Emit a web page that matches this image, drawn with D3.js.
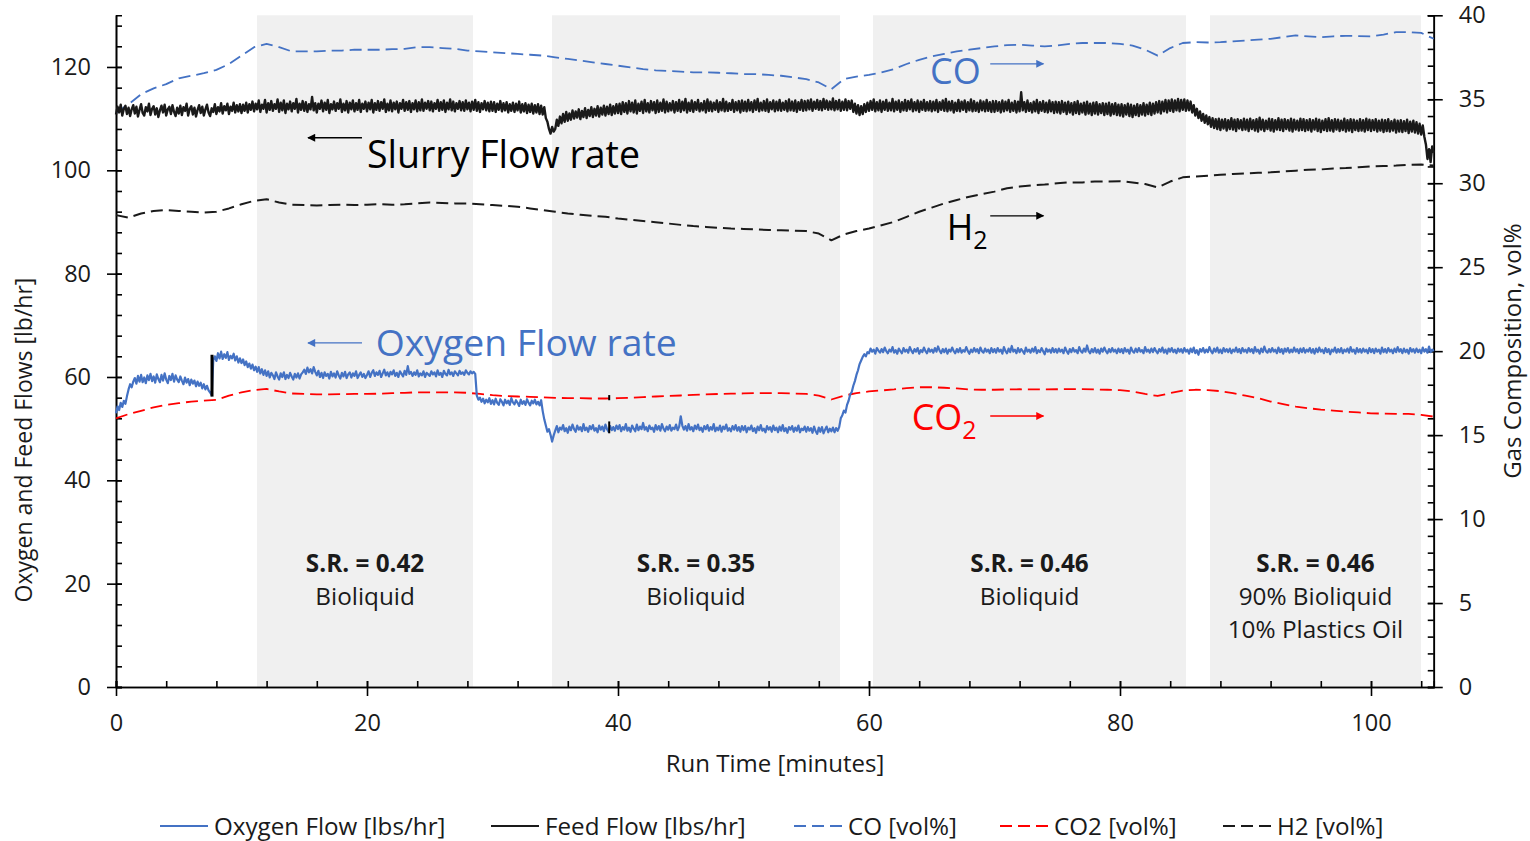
<!DOCTYPE html>
<html>
<head>
<meta charset="utf-8">
<script src="https://cdn.jsdelivr.net/npm/d3@7"></script>
<style>
  html, body { margin: 0; padding: 0; background: #ffffff; }
  svg { display: block; font-family: "Open Sans", Lato, "DejaVu Sans", sans-serif; }
</style>
</head>
<body>
<svg id="chart" width="1530" height="841"></svg>
<script>
// ---------------------------------------------------------------
// Run data
// ---------------------------------------------------------------

// Flow signals are logged every 7.5 s, gas analyser every minute.
const flowStepMin = 0.125;
const gasStepMin = 1;

// Oxygen flow [lbs/hr], t = 0 … 105 min (one row = 5 min)
const oxygenFlow = [
  53.0, 54.3, 53.6, 55.0, 54.2, 55.4, 54.8, 56.3, 57.6, 58.6, 58.0, 59.1, 59.8, 58.7, 60.2, 59.1, 60.4, 59.0, 59.9, 58.8, 60.3, 59.4, 60.6, 59.2, 60.1, 58.9, 60.5, 59.6, 59.0, 60.4, 59.3, 60.7, 59.5, 58.8, 60.2, 59.4, 60.6, 59.1, 60.3, 59.5,
  59.0, 60.1, 59.3, 58.6, 59.9, 58.9, 59.6, 58.4, 59.5, 58.7, 59.3, 58.2, 59.1, 58.3, 58.9, 57.8, 58.6, 57.6, 58.3, 57.4, 57.0, 56.5, 63.2, 64.0, 63.1, 64.6, 63.6, 64.9, 63.5, 64.4, 63.7, 64.8, 63.3, 64.1, 63.6, 64.5, 63.2, 64.0, 62.8, 63.6,
  62.7, 63.4, 62.3, 63.0, 61.9, 62.6, 61.6, 62.4, 61.3, 62.0, 61.0, 61.9, 60.7, 61.5, 60.4, 61.3, 60.2, 61.1, 59.9, 60.8, 60.3, 59.6, 60.9, 60.1, 59.5, 60.7, 60.0, 60.9, 59.6, 60.4, 59.8, 60.8, 60.1, 59.5, 60.6, 59.9, 60.7, 59.7, 60.5, 60.9,
  61.4, 60.6, 61.8, 60.9, 61.5, 60.7, 61.9, 61.0, 60.3, 61.2, 60.0, 60.8, 59.8, 60.9, 60.2, 60.6, 59.7, 61.0, 60.1, 60.7, 59.9, 61.1, 60.3, 59.7, 60.8, 60.1, 61.0, 59.8, 60.5, 60.9, 59.9, 60.7, 60.2, 61.1, 59.8, 60.4, 60.9, 60.0, 60.6, 59.8,
  60.4, 61.1, 60.0, 60.8, 61.3, 60.2, 60.9, 60.4, 61.2, 60.0, 60.7, 61.4, 60.3, 60.9, 60.1, 61.0, 60.5, 61.3, 60.2, 60.8, 60.0, 61.1, 60.6, 60.1, 61.2, 60.4, 62.1, 60.6, 61.0, 60.2, 60.9, 60.4, 61.3, 60.1, 60.7, 60.3, 61.1, 60.0, 60.8, 60.5,
  60.2, 61.1, 60.5, 60.9, 60.1, 61.3, 60.4, 60.8, 60.0, 61.2, 60.6, 60.3, 61.4, 60.5, 60.9, 60.2, 61.1, 60.7, 60.3, 61.2, 60.6, 60.9, 60.4, 61.3, 60.8, 60.5, 61.1, 60.7, 61.0, 60.6, 56.4, 55.6, 56.0, 55.2, 55.8, 54.9, 55.6, 55.1, 55.9, 54.8,
  55.5, 54.7, 55.8, 55.0, 54.6, 55.7, 55.2, 54.5, 55.6, 54.9, 55.4, 54.6, 55.9, 55.1, 54.7, 55.5, 55.0, 54.4, 55.6, 54.8, 55.3, 54.6, 55.7, 55.0, 54.5, 55.4, 54.9, 55.6, 54.7, 55.2, 54.5, 55.5, 53.4, 51.8, 50.6, 49.4, 49.9, 48.8, 47.5, 48.7,
  49.6, 50.5, 49.3, 50.2, 49.8, 50.7, 49.5, 50.1, 49.2, 50.4, 49.7, 50.8, 49.9, 49.4, 50.6, 49.8, 50.3, 49.5, 50.9, 49.7, 50.2, 49.4, 50.5, 49.9, 50.7, 49.6, 50.1, 49.3, 50.6, 49.8, 50.4, 49.5, 50.8, 49.9, 49.4, 50.5, 49.7, 50.3, 49.6, 50.6,
  49.9, 50.7, 49.5, 50.3, 49.8, 50.9, 49.6, 50.2, 49.4, 50.6, 50.0, 49.5, 50.8, 49.7, 50.4, 49.9, 51.1, 49.8, 50.3, 49.5, 50.6, 49.9, 50.2, 49.4, 50.7, 49.8, 50.5, 49.6, 50.9, 50.0, 49.5, 50.4, 49.8, 50.7, 49.6, 50.2, 49.9, 50.8, 49.7, 50.4,
  52.4, 50.6, 49.8, 50.5, 49.6, 50.9, 49.8, 50.3, 49.5, 50.6, 49.9, 50.8, 49.7, 50.2, 49.4, 50.5, 49.9, 50.7, 49.6, 50.3, 49.8, 50.9, 49.5, 50.2, 49.7, 50.6, 49.4, 50.4, 49.9, 50.8, 49.6, 50.1, 49.5, 50.5, 49.8, 50.7, 49.6, 50.3, 49.4, 50.5,
  49.7, 50.5, 49.3, 50.2, 49.8, 50.6, 49.5, 50.1, 49.2, 50.4, 49.7, 50.7, 49.6, 50.0, 49.3, 50.5, 49.8, 50.3, 49.4, 50.6, 49.7, 50.2, 49.3, 50.4, 49.6, 50.7, 49.5, 50.1, 49.2, 50.3, 49.8, 50.5, 49.4, 50.2, 49.6, 50.6, 49.3, 50.0, 49.7, 50.4,
  49.4, 50.3, 49.6, 50.1, 49.2, 50.4, 49.5, 49.0, 50.2, 49.4, 50.3, 49.1, 49.8, 50.4, 49.3, 50.0, 49.5, 50.2, 49.3, 50.1, 49.6, 50.3, 52.0, 52.6, 53.5, 53.1, 54.6, 55.4, 56.6, 57.1, 58.3, 59.2, 60.4, 61.3, 62.5, 63.2, 63.9, 64.4, 64.0, 64.8,
  64.6, 65.5, 64.9, 65.3, 64.5, 65.6, 65.1, 64.7, 65.4, 64.8, 65.7, 65.0, 64.6, 65.3, 64.9, 65.8, 64.7, 65.2, 64.5, 65.5, 65.0, 64.6, 65.6, 64.9, 65.3, 64.7, 65.8, 65.1, 64.6, 65.4, 64.9, 65.6, 64.5, 65.2, 64.8, 65.7, 65.0, 64.6, 65.5, 64.9,
  65.3, 64.7, 65.6, 64.9, 65.9, 65.1, 64.6, 65.4, 64.8, 65.5, 64.5, 65.3, 64.9, 65.7, 65.0, 64.6, 65.4, 64.8, 65.6, 64.7, 65.2, 64.9, 65.8, 65.0, 64.5, 65.3, 64.8, 65.6, 64.9, 65.4, 64.6, 65.7, 65.0, 64.7, 65.5, 64.9, 65.3, 64.6, 65.6, 64.8,
  65.4, 64.7, 65.6, 64.9, 65.3, 64.5, 65.8, 65.0, 64.6, 65.5, 64.8, 66.0, 64.9, 65.3, 64.6, 65.6, 64.8, 65.4, 65.0, 64.5, 65.7, 64.9, 65.3, 64.7, 65.5, 64.9, 65.8, 64.6, 65.2, 64.8, 65.6, 65.0, 64.4, 65.5, 64.9, 65.3, 64.7, 65.6, 64.8, 65.4,
  64.7, 65.5, 64.9, 65.3, 64.6, 65.7, 65.0, 64.5, 65.4, 64.8, 65.6, 64.9, 65.2, 64.6, 65.8, 65.0, 64.7, 65.5, 64.9, 66.1, 65.0, 64.6, 65.4, 64.8, 65.6, 64.7, 65.3, 64.5, 65.5, 64.9, 65.7, 65.0, 64.6, 65.4, 64.8, 65.6, 64.9, 65.3, 64.6, 65.5,
  64.8, 65.4, 64.6, 65.6, 64.9, 65.3, 64.5, 65.7, 65.0, 64.7, 65.5, 64.8, 65.6, 64.9, 65.2, 64.6, 65.8, 64.9, 65.3, 64.7, 65.5, 64.8, 65.6, 65.0, 64.6, 65.4, 64.9, 65.7, 64.7, 65.3, 64.5, 65.5, 64.9, 65.6, 64.8, 65.3, 64.6, 65.5, 64.9, 65.4,
  64.7, 65.6, 64.9, 65.3, 64.5, 65.5, 64.8, 65.7, 64.6, 65.2, 64.3, 65.4, 64.9, 65.6, 64.7, 65.3, 64.8, 65.8, 65.0, 64.6, 65.5, 64.9, 65.7, 64.7, 65.3, 64.6, 65.6, 64.9, 65.4, 64.8, 65.5, 64.6, 65.3, 64.9, 65.7, 64.8, 65.4, 64.6, 65.6, 64.9,
  65.3, 64.7, 65.6, 64.9, 65.4, 64.6, 65.8, 64.9, 65.3, 64.5, 65.5, 64.8, 65.9, 65.0, 64.7, 65.4, 64.8, 65.6, 64.9, 65.3, 64.6, 65.7, 64.8, 65.4, 64.5, 65.5, 64.9, 65.6, 64.7, 65.3, 64.8, 65.7, 64.9, 65.4, 64.6, 65.5, 64.8, 65.6, 64.7, 65.3,
  64.9, 65.6, 64.7, 65.4, 64.5, 65.5, 64.8, 65.7, 64.9, 65.3, 64.6, 65.6, 64.8, 65.4, 64.4, 65.3, 64.9, 65.7, 64.7, 65.4, 64.8, 65.6, 64.6, 65.3, 64.9, 65.5, 64.7, 65.8, 64.9, 65.3, 64.5, 65.6, 64.8, 65.4, 64.7, 65.5, 64.9, 65.3, 64.6, 65.6,
  64.8, 65.4, 64.6, 65.5, 64.9, 65.3, 64.5, 65.7, 64.8, 65.4, 64.7, 65.6, 64.9, 65.3, 64.6, 65.5, 64.8, 65.8, 64.9, 65.4, 64.6, 65.5, 64.8, 65.3, 64.5, 65.6, 64.9, 65.4, 64.7, 65.5, 64.8, 65.3, 64.6, 65.7, 64.9, 65.4, 64.7, 65.9, 64.8, 65.3,
  65.0
];

// Slurry feed flow [lbs/hr], t = 0 … 105 min (one row = 5 min)
const feedFlow = [
  110.8, 112.3, 111.2, 112.7, 110.6, 111.9, 112.5, 110.9, 112.1, 110.5, 111.8, 112.6, 111.0, 112.3, 110.4, 111.7, 112.8, 111.1, 110.6, 112.2, 111.4, 112.9, 110.7, 111.9, 112.4, 110.8, 112.0, 110.3, 111.6, 112.5, 111.2, 112.7, 110.6, 111.8, 112.3, 110.9, 112.6, 111.3, 110.5, 112.1,
  111.0, 112.5, 110.7, 112.2, 111.5, 112.9, 110.6, 111.9, 112.4, 110.8, 112.1, 110.4, 111.7, 112.6, 111.1, 112.3, 110.6, 111.8, 112.7, 111.2, 110.5, 112.0, 111.3, 112.8, 110.9, 112.2, 111.4, 113.0, 111.0, 112.4, 111.6, 112.9, 110.9, 112.3, 111.5, 113.1, 111.2, 112.6, 111.4, 112.8,
  111.1, 112.7, 111.5, 113.1, 111.2, 112.8, 111.7, 113.3, 111.4, 112.9, 111.8, 113.5, 111.3, 112.7, 111.9, 113.6, 111.2, 113.0, 111.7, 113.4, 111.5, 112.8, 111.9, 113.7, 111.3, 113.1, 111.6, 113.5, 111.1, 112.9, 111.8, 113.3, 111.4, 113.0, 111.9, 113.8, 111.2, 112.9, 111.7, 113.4,
  111.5, 113.2, 111.3, 112.8, 111.8, 114.2, 111.6, 113.0, 111.2, 112.9, 111.9, 113.5, 111.4, 113.1, 111.7, 113.6, 111.1, 112.8, 111.8, 113.3, 111.5, 113.0, 111.9, 113.7, 111.3, 112.9, 111.6, 113.4, 111.2, 113.1, 111.8, 113.5, 111.4, 113.0, 111.7, 113.6, 111.3, 112.9, 111.9, 113.3,
  111.4, 113.1, 111.8, 113.6, 111.2, 113.0, 111.7, 113.4, 111.5, 113.2, 111.9, 113.7, 111.3, 112.9, 111.6, 113.5, 111.4, 113.1, 111.8, 113.3, 111.2, 113.0, 111.9, 113.6, 111.5, 113.2, 111.7, 113.4, 111.3, 113.0, 111.8, 113.5, 111.4, 113.2, 111.6, 113.7, 111.5, 113.1, 111.9, 113.4,
  111.6, 113.3, 111.4, 113.0, 111.9, 113.6, 111.5, 113.2, 111.7, 113.5, 111.3, 113.1, 111.8, 113.7, 111.6, 113.3, 111.4, 113.0, 111.9, 113.4, 111.6, 113.2, 111.5, 113.5, 111.8, 113.1, 111.4, 113.3, 111.7, 113.6, 111.5, 113.2, 111.3, 113.0, 111.8, 113.4, 111.6, 113.1, 111.4, 113.3,
  111.5, 113.2, 111.3, 112.9, 111.7, 113.4, 111.4, 113.0, 111.6, 113.2, 111.2, 112.8, 111.5, 113.1, 111.3, 112.9, 111.6, 113.3, 111.2, 112.8, 111.4, 113.0, 111.1, 112.7, 111.3, 112.9, 111.0, 112.6, 111.2, 112.8, 110.9, 112.5, 110.8, 112.2, 110.1, 109.4, 108.0, 107.1, 108.4, 107.5,
  108.0, 109.8, 108.6, 110.4, 109.1, 110.9, 109.4, 111.3, 109.6, 111.0, 109.8, 111.6, 110.0, 111.4, 110.2, 111.8, 109.9, 111.5, 110.3, 112.0, 110.1, 111.7, 110.5, 112.2, 110.3, 111.9, 110.6, 112.4, 110.4, 112.1, 110.8, 112.5, 110.6, 112.3, 110.9, 112.7, 110.7, 112.4, 111.0, 112.8,
  111.1, 112.9, 110.9, 113.2, 111.3, 113.0, 111.0, 113.4, 111.4, 113.1, 111.2, 113.5, 111.0, 112.9, 111.5, 113.3, 111.1, 113.6, 111.4, 113.0, 111.2, 113.4, 111.6, 113.2, 111.1, 113.5, 111.3, 113.1, 111.5, 113.7, 111.2, 113.3, 111.4, 113.0, 111.6, 113.4, 111.2, 113.2, 111.5, 113.6,
  111.3, 113.3, 111.6, 113.8, 111.2, 113.1, 111.5, 113.5, 111.3, 113.2, 111.7, 113.6, 111.4, 113.0, 111.6, 113.4, 111.2, 113.7, 111.5, 113.3, 111.4, 113.1, 111.7, 113.5, 111.3, 113.2, 111.6, 113.8, 111.4, 113.3, 111.5, 113.0, 111.7, 113.6, 111.3, 113.2, 111.6, 113.4, 111.2, 113.5,
  111.5, 113.3, 111.4, 113.6, 111.6, 113.2, 111.3, 113.5, 111.7, 113.8, 111.4, 113.1, 111.6, 113.4, 111.5, 113.7, 111.3, 113.2, 111.8, 113.5, 111.4, 113.3, 111.6, 113.6, 111.5, 113.1, 111.7, 113.4, 111.4, 113.7, 111.6, 113.3, 111.5, 113.5, 111.3, 113.2, 111.7, 113.6, 111.5, 113.4,
  111.6, 113.5, 111.8, 113.7, 111.5, 113.3, 111.9, 113.6, 111.7, 113.4, 111.6, 113.8, 111.9, 113.5, 111.7, 113.3, 111.8, 113.9, 111.6, 113.4, 111.8, 113.6, 111.5, 113.3, 111.7, 113.7, 111.6, 113.4, 111.9, 113.5, 111.3, 112.9, 111.0, 112.6, 110.7, 112.4, 110.9, 112.8, 111.3, 113.1,
  111.5, 113.4, 111.7, 113.7, 111.4, 113.2, 111.6, 113.5, 111.3, 113.3, 111.7, 113.6, 111.5, 113.1, 111.6, 113.8, 111.4, 113.3, 111.7, 113.5, 111.3, 113.2, 111.6, 113.6, 111.5, 113.4, 111.8, 113.7, 111.4, 113.2, 111.6, 113.5, 111.3, 113.3, 111.7, 113.6, 111.5, 113.2, 111.6, 113.4,
  111.4, 113.3, 111.6, 113.6, 111.3, 113.2, 111.7, 113.5, 111.5, 113.8, 111.4, 113.3, 111.6, 113.4, 111.2, 113.1, 111.5, 113.6, 111.4, 113.3, 111.7, 113.5, 111.3, 113.2, 111.6, 113.7, 111.4, 113.4, 111.5, 113.1, 111.3, 113.5, 111.6, 113.3, 111.4, 113.6, 111.5, 113.2, 111.3, 113.4,
  111.3, 113.4, 111.5, 113.2, 111.2, 113.5, 111.4, 113.3, 111.6, 113.6, 111.3, 113.1, 111.5, 113.4, 111.2, 113.3, 111.4, 115.1, 111.6, 113.2, 111.3, 113.5, 111.5, 113.0, 111.2, 113.3, 111.4, 113.6, 111.1, 113.2, 111.5, 113.4, 111.3, 113.1, 111.2, 113.5, 111.4, 113.2, 111.1, 113.3,
  111.2, 113.2, 111.0, 113.4, 111.3, 113.1, 110.9, 113.3, 111.2, 113.0, 110.8, 113.2, 111.1, 113.4, 110.9, 112.9, 111.2, 113.1, 110.8, 113.3, 111.0, 112.9, 110.7, 113.1, 111.0, 113.2, 110.8, 112.8, 111.1, 113.0, 110.7, 112.9, 110.9, 113.1, 110.6, 112.8, 110.9, 113.0, 110.7, 112.7,
  110.6, 112.8, 110.4, 112.6, 110.8, 112.9, 110.5, 112.7, 110.3, 112.5, 110.7, 112.8, 110.5, 112.6, 110.8, 113.0, 110.6, 112.7, 110.9, 113.1, 110.7, 112.9, 111.0, 113.2, 111.2, 113.4, 111.0, 113.3, 111.4, 113.6, 111.2, 113.5, 111.5, 113.7, 111.3, 113.5, 111.6, 113.8, 111.4, 113.6,
  111.7, 113.7, 111.5, 113.5, 111.6, 113.3, 111.2, 112.6, 110.6, 111.9, 110.1, 111.4, 109.6, 110.9, 109.2, 110.6, 108.9, 110.3, 108.4, 110.1, 108.2, 109.9, 108.0, 110.0, 107.8, 109.8, 108.1, 109.9, 107.7, 109.7, 108.0, 110.1, 107.9, 109.8, 107.6, 109.9, 108.1, 109.7, 107.8, 110.0,
  107.9, 109.8, 107.6, 110.0, 108.0, 109.7, 107.7, 109.9, 107.5, 110.2, 107.9, 109.8, 107.6, 109.6, 108.0, 110.0, 107.7, 109.9, 107.5, 109.7, 107.9, 110.1, 107.8, 109.8, 107.6, 109.9, 108.0, 109.7, 107.7, 110.0, 107.5, 109.8, 107.9, 109.6, 107.7, 110.0, 107.8, 109.9, 107.6, 109.7,
  107.8, 109.9, 107.5, 109.7, 107.9, 110.0, 107.6, 109.8, 107.4, 109.6, 107.8, 109.9, 107.6, 110.1, 107.7, 109.7, 107.5, 109.9, 107.9, 109.8, 107.6, 109.6, 107.8, 110.0, 107.5, 109.7, 107.7, 109.9, 107.4, 109.8, 107.8, 109.6, 107.6, 109.9, 107.7, 109.7, 107.5, 110.0, 107.8, 109.8,
  107.6, 109.7, 107.8, 109.9, 107.5, 109.6, 107.7, 109.8, 107.4, 109.7, 107.6, 109.9, 107.5, 109.5, 107.7, 109.8, 107.3, 109.6, 107.5, 109.7, 107.4, 109.5, 107.6, 109.8, 107.2, 109.4, 107.5, 109.6, 107.3, 109.3, 107.1, 109.0, 106.9, 108.7, 106.5, 105.0, 102.2, 104.1, 101.6, 104.6,
  103.4
];

// Syngas composition [vol%], t = 0 … 105 min
const coVol = [
  34.2, 34.7, 35.3, 35.65, 35.9, 36.25, 36.4, 36.55, 36.75, 37.1,
  37.6, 38.1, 38.3, 38.1, 37.85, 37.85, 37.85, 37.9, 37.9, 37.95,
  37.95, 37.95, 37.98, 38.0, 38.1, 38.1, 38.05, 38.0, 37.9, 37.85,
  37.8, 37.75, 37.7, 37.65, 37.6, 37.5, 37.4, 37.3, 37.2, 37.1,
  37.0, 36.9, 36.8, 36.72, 36.68, 36.65, 36.6, 36.6, 36.58, 36.55,
  36.5, 36.5, 36.45, 36.4, 36.3, 36.2, 36.0, 35.6, 36.2, 36.35,
  36.45, 36.6, 36.8, 37.1, 37.35, 37.55, 37.7, 37.85, 37.95, 38.05,
  38.15, 38.22, 38.25, 38.2, 38.15, 38.2, 38.3, 38.35, 38.35, 38.35,
  38.3, 38.2, 37.95, 37.6, 38.05, 38.35, 38.4, 38.38, 38.4, 38.45,
  38.5, 38.55, 38.6, 38.7, 38.8, 38.75, 38.7, 38.75, 38.78, 38.76,
  38.75, 38.85, 39.0, 39.0, 38.95, 38.6
];

const co2Vol = [
  16.0, 16.25, 16.45, 16.65, 16.8, 16.9, 17.0, 17.05, 17.1, 17.35,
  17.55, 17.68, 17.75, 17.6, 17.48, 17.45, 17.43, 17.43, 17.44, 17.45,
  17.45, 17.47, 17.5, 17.52, 17.55, 17.55, 17.55, 17.55, 17.52, 17.45,
  17.38, 17.33, 17.3, 17.28, 17.25, 17.22, 17.2, 17.2, 17.18, 17.18,
  17.2, 17.22, 17.26, 17.3, 17.33, 17.36, 17.4, 17.42, 17.45, 17.47,
  17.48, 17.5, 17.5, 17.5, 17.48, 17.45, 17.35, 17.12, 17.35, 17.5,
  17.6, 17.66, 17.72, 17.8, 17.85, 17.85, 17.82, 17.78, 17.72, 17.7,
  17.7, 17.72, 17.73, 17.72, 17.72, 17.73, 17.74, 17.74, 17.72, 17.7,
  17.68, 17.6, 17.45, 17.33, 17.5, 17.65, 17.7, 17.68, 17.62, 17.5,
  17.35, 17.2, 17.0, 16.85, 16.7, 16.6, 16.52, 16.46, 16.4, 16.35,
  16.3, 16.28, 16.27, 16.26, 16.2, 16.1
];

const h2Vol = [
  28.1, 27.95, 28.2, 28.35, 28.4, 28.35, 28.3, 28.25, 28.3, 28.5,
  28.75, 28.95, 29.05, 28.85, 28.72, 28.7, 28.68, 28.7, 28.72, 28.7,
  28.72, 28.75, 28.72, 28.75, 28.8, 28.85, 28.82, 28.8, 28.8, 28.75,
  28.7, 28.65, 28.6, 28.5, 28.4, 28.3, 28.2, 28.12, 28.05, 28.0,
  27.9, 27.82, 27.75, 27.68, 27.6, 27.52, 27.45, 27.4, 27.35, 27.3,
  27.28, 27.25, 27.22, 27.2, 27.18, 27.15, 27.0, 26.6, 26.95, 27.15,
  27.3, 27.5, 27.7, 28.0, 28.3, 28.55, 28.8, 29.0, 29.2, 29.35,
  29.5, 29.7, 29.8, 29.88, 29.92, 30.0, 30.05, 30.05, 30.1, 30.1,
  30.12, 30.05, 29.95, 29.75, 30.1, 30.35, 30.4, 30.45, 30.5, 30.55,
  30.58, 30.62, 30.65, 30.7, 30.75, 30.8, 30.82, 30.88, 30.9, 30.95,
  31.0, 31.02, 31.05, 31.1, 31.12, 31.05
];

// Test periods (start, end in minutes) and their conditions
const periodStart = [11.24, 34.74, 60.32, 87.17];
const periodEnd   = [28.45, 57.69, 85.26, 103.98];
const periodSR    = ["S.R. = 0.42", "S.R. = 0.35", "S.R. = 0.46", "S.R. = 0.46"];
const periodFeed  = [["Bioliquid"], ["Bioliquid"], ["Bioliquid"], ["90% Bioliquid", "10% Plastics Oil"]];

// Vertical event marks on the record: time [min], low, high [lbs/hr]
const eventTime = [7.65, 39.3, 39.3];
const eventLow  = [56.2, 55.5, 49.1];
const eventHigh = [64.3, 56.5, 51.4];

// Axis tick values
const timeTicks = [0, 20, 40, 60, 80, 100];
const flowTicks = [0, 20, 40, 60, 80, 100, 120];
const gasTicks  = [0, 5, 10, 15, 20, 25, 30, 35, 40];

// Legend labels
const legendLabels = ["Oxygen Flow [lbs/hr]", "Feed Flow [lbs/hr]", "CO [vol%]", "CO2 [vol%]", "H2 [vol%]"];

// ---------------------------------------------------------------
// Drawing
// ---------------------------------------------------------------
const svg = d3.select("#chart");
const FONT = "'Open Sans', Lato, 'DejaVu Sans', sans-serif";
const BLUE = "#4472c4";
const RED = "#ff0000";
const SHADE = "#f0f0f0";
const INK = "#1a1a1a";

const x = d3.scaleLinear().domain([0, 105]).range([116, 1433.75]);
const yL = d3.scaleLinear().domain([0, 130]).range([687, 15.3]);
const yR = d3.scaleLinear().domain([0, 40]).range([687, 15.3]);

const flowSeries = (vals) => vals.map((v, i) => [i * flowStepMin, v]);
const gasSeries = (vals) => vals.map((v, i) => [i * gasStepMin, v]);

// shaded test periods
svg.append("g").selectAll("rect")
  .data(periodStart)
  .join("rect")
  .attr("x", (d) => x(d))
  .attr("width", (d, i) => x(periodEnd[i]) - x(d))
  .attr("y", yL(130))
  .attr("height", yL(0) - yL(130))
  .attr("fill", SHADE);

// period condition labels
const periodLabels = svg.append("g")
  .attr("font-family", FONT)
  .attr("font-size", 24.3)
  .attr("fill", INK)
  .attr("text-anchor", "middle");
periodStart.forEach((s, i) => {
  const cx = x((s + periodEnd[i]) / 2);
  const t = periodLabels.append("text")
    .attr("x", cx)
    .attr("y", yL(22.3));
  t.append("tspan").attr("x", cx).attr("font-weight", "bold").text(periodSR[i]);
  periodFeed[i].forEach((line) => {
    t.append("tspan").attr("x", cx).attr("dy", 33).text(line);
  });
});

// axes
function styleAxis(g) {
  g.selectAll("path.domain").attr("stroke", "#000").attr("stroke-width", 1.6);
  g.selectAll(".tick line").attr("stroke", "#000").attr("stroke-width", 1.6);
  g.selectAll(".tick text").attr("font-family", FONT).attr("font-size", 23.5).attr("fill", INK);
}

// left axis: minor ticks inside, major ticks crossing
svg.append("g").attr("transform", `translate(${x(0)},0)`)
  .call(d3.axisRight(yL).tickValues(d3.range(0, 130, 4)).tickSize(6).tickFormat(""))
  .call(styleAxis);
svg.append("g").attr("transform", `translate(${x(0)},0)`)
  .call(d3.axisLeft(yL).tickValues(flowTicks).tickSize(9).tickSizeOuter(0).tickPadding(16))
  .call(styleAxis)
  .call((g) => g.selectAll(".tick line").attr("x2", 6).attr("x1", -9));

// right axis
svg.append("g").attr("transform", `translate(${x(105)},0)`)
  .call(d3.axisLeft(yR).tickValues(d3.range(0, 41, 1)).tickSize(6).tickFormat(""))
  .call(styleAxis);
svg.append("g").attr("transform", `translate(${x(105)},0)`)
  .call(d3.axisRight(yR).tickValues(gasTicks).tickSize(9).tickSizeOuter(0).tickPadding(16))
  .call(styleAxis)
  .call((g) => g.selectAll(".tick line").attr("x1", -6).attr("x2", 9));

// bottom axis
svg.append("g").attr("transform", `translate(0,${yL(0)})`)
  .call(d3.axisTop(x).tickValues(d3.range(0, 105, 4)).tickSize(6).tickFormat(""))
  .call(styleAxis);
svg.append("g").attr("transform", `translate(0,${yL(0)})`)
  .call(d3.axisBottom(x).tickValues(timeTicks).tickSize(9).tickSizeOuter(0).tickPadding(18))
  .call(styleAxis)
  .call((g) => g.selectAll(".tick line").attr("y1", -6).attr("y2", 9));

// axis titles
const titleStyle = (s) => s.attr("text-anchor", "middle")
  .attr("font-family", FONT).attr("font-size", 24).attr("fill", INK);
svg.append("text").attr("x", 775).attr("y", 772)
  .call(titleStyle).text("Run Time [minutes]");
svg.append("text").attr("transform", "translate(32,440) rotate(-90)")
  .call(titleStyle).attr("font-size", 23).text("Oxygen and Feed Flows [lb/hr]");
svg.append("text").attr("transform", "translate(1521,351) rotate(-90)")
  .call(titleStyle).text("Gas Composition, vol%");

// series lines
const lineL = d3.line().x((d) => x(d[0])).y((d) => yL(d[1]));
const lineR = d3.line().x((d) => x(d[0])).y((d) => yR(d[1]));
const plot = svg.append("g").attr("fill", "none").attr("stroke-linejoin", "round");

plot.append("path").datum(gasSeries(coVol))
  .attr("d", lineR).attr("stroke", BLUE).attr("stroke-width", 1.8).attr("stroke-dasharray", "12,6");
plot.append("path").datum(gasSeries(h2Vol))
  .attr("d", lineR).attr("stroke", INK).attr("stroke-width", 2).attr("stroke-dasharray", "12,6");
plot.append("path").datum(gasSeries(co2Vol))
  .attr("d", lineR).attr("stroke", RED).attr("stroke-width", 1.8).attr("stroke-dasharray", "12,6");
plot.append("path").datum(flowSeries(feedFlow))
  .attr("d", lineL).attr("stroke", INK).attr("stroke-width", 2.4);
plot.append("path").datum(flowSeries(oxygenFlow))
  .attr("d", lineL).attr("stroke", BLUE).attr("stroke-width", 2.2);

// event marks
svg.append("g").selectAll("line")
  .data(eventTime)
  .join("line")
  .attr("x1", (d) => x(d)).attr("x2", (d) => x(d))
  .attr("y1", (d, i) => yL(eventLow[i]))
  .attr("y2", (d, i) => yL(eventHigh[i]))
  .attr("stroke", "#000")
  .attr("stroke-width", (d, i) => (i === 0 ? 3 : 2));

// callouts with arrows
const defs = svg.append("defs");
function arrowHead(id, color) {
  defs.append("marker")
    .attr("id", id)
    .attr("viewBox", "0 0 10 10")
    .attr("refX", 9).attr("refY", 5)
    .attr("markerWidth", 12).attr("markerHeight", 8)
    .attr("markerUnits", "userSpaceOnUse")
    .attr("orient", "auto")
    .append("path").attr("d", "M0,0 L10,5 L0,10 Z").attr("fill", color);
}
arrowHead("arrow-blue", BLUE);
arrowHead("arrow-black", "#000");
arrowHead("arrow-red", RED);

const callouts = svg.append("g").attr("font-family", FONT);
function arrow(t0, t1, v, color, id) {
  callouts.append("line")
    .attr("x1", x(t0)).attr("x2", x(t1))
    .attr("y1", yL(v)).attr("y2", yL(v))
    .attr("stroke", color).attr("stroke-width", 1.3)
    .attr("marker-end", `url(#${id})`);
}
function label(t, v, text, color, size, sub) {
  const el = callouts.append("text")
    .attr("x", x(t)).attr("y", yL(v))
    .attr("font-size", size).attr("fill", color)
    .text(text);
  if (sub) el.append("tspan").attr("font-size", 25).attr("dy", 9).text(sub);
}

label(64.86, 116.7, "CO", BLUE, 36);
arrow(69.66, 73.9, 120.6, BLUE, "arrow-blue");

label(20.0, 100.45, "Slurry Flow rate", "#000", 37.5);
arrow(19.6, 15.3, 106.3, "#000", "arrow-black");

label(66.2, 86.5, "H", "#000", 36, "2");
arrow(69.66, 73.9, 91.2, "#000", "arrow-black");

label(20.7, 64.1, "Oxygen Flow rate", BLUE, 37.3);
arrow(19.6, 15.3, 66.6, BLUE, "arrow-blue");

label(63.4, 49.7, "CO", RED, 36, "2");
arrow(69.66, 73.9, 52.45, RED, "arrow-red");

// legend
const legendStyles = [
  { color: BLUE, dash: null },
  { color: INK, dash: null },
  { color: BLUE, dash: "12,6" },
  { color: RED, dash: "12,6" },
  { color: INK, dash: "12,6" }
];
const legendX = [160, 491, 794, 1000, 1223];
const legend = svg.append("g").attr("font-family", FONT).attr("font-size", 24.2);
legendLabels.forEach((lab, i) => {
  const g = legend.append("g").attr("transform", `translate(${legendX[i]},826)`);
  g.append("line").attr("x1", 0).attr("x2", 48).attr("y1", 0).attr("y2", 0)
    .attr("stroke", legendStyles[i].color).attr("stroke-width", 2)
    .attr("stroke-dasharray", legendStyles[i].dash);
  g.append("text").attr("x", 54).attr("y", 9).attr("fill", INK).text(lab);
});
</script>
</body>
</html>
